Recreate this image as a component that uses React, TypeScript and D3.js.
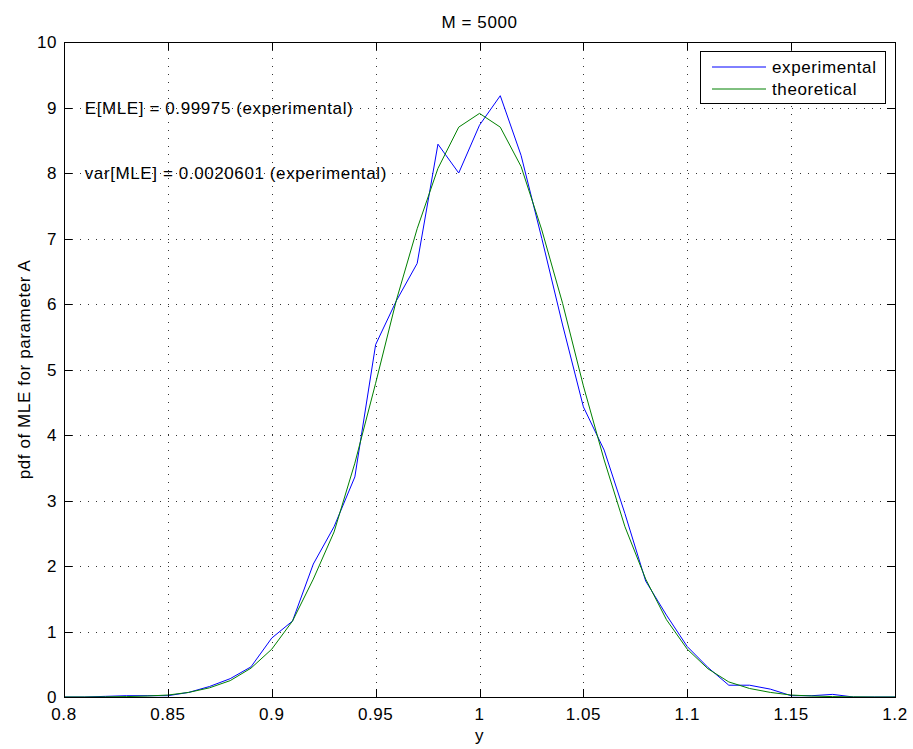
import React from "react";
import * as d3 from "d3";

const xValues: number[] = [
  0.8, 0.81, 0.82, 0.83, 0.84, 0.85, 0.86, 0.87, 0.88, 0.89, 0.9, 0.91, 0.92, 0.93, 0.94, 0.95, 0.96, 0.97,
  0.98, 0.99, 1.0, 1.01, 1.02, 1.03, 1.04, 1.05, 1.06, 1.07, 1.08, 1.09, 1.1, 1.11, 1.12, 1.13, 1.14, 1.15,
  1.16, 1.17, 1.18, 1.19, 1.2,
];
const experimental: number[] = [
  0, 0, 0.01, 0.02, 0.02, 0.02, 0.07, 0.16, 0.28, 0.46, 0.9, 1.16, 2.03, 2.6, 3.36, 5.38, 6.05, 6.62,
  8.44, 8.0, 8.73, 9.18, 8.27, 7.0, 5.68, 4.43, 3.77, 2.8, 1.77, 1.25, 0.77, 0.45, 0.18, 0.18, 0.12, 0.02,
  0.02, 0.04, 0, 0, 0,
];
const theoretical: number[] = [
  0, 0, 0.002, 0.006, 0.015, 0.03, 0.07, 0.14, 0.25, 0.44, 0.73, 1.16, 1.8, 2.52, 3.57, 4.79, 6.06, 7.15,
  8.07, 8.7, 8.91, 8.7, 8.1, 7.13, 6.01, 4.75, 3.62, 2.6, 1.8, 1.18, 0.73, 0.43, 0.23, 0.13, 0.07, 0.03,
  0.015, 0.006, 0.002, 0, 0,
];
const xTicks: number[] = [0.8, 0.85, 0.9, 0.95, 1, 1.05, 1.1, 1.15, 1.2];
const yTicks: number[] = [0, 1, 2, 3, 4, 5, 6, 7, 8, 9, 10];
const seriesNames: string[] = ["experimental", "theoretical"];
const seriesColors: string[] = ["#0000ff", "#008000"];
const annotations: string[] = ["E[MLE] = 0.99975 (experimental)", "var[MLE] = 0.0020601 (experimental)"];
const annotationY: number[] = [9, 8];
const titleText = "M = 5000";
const xLabel = "y";
const yLabel = "pdf of MLE for parameter A";

const W = 913;
const H = 749;
const left = 64;
const right = 895;
const top = 42;
const bottom = 697;
const FONT = "'Liberation Sans', Arial, Helvetica, sans-serif";
const FS = 17;
const LS = 0.6;

export default function App() {
  const x = d3.scaleLinear().domain([0.8, 1.2]).range([left, right]);
  const y = d3.scaleLinear().domain([0, 10]).range([bottom, top]);
  const line = d3
    .line<number>()
    .x((_, i) => x(xValues[i]))
    .y((d) => y(d));
  const series = [experimental, theoretical];
  const tickLen = 8;

  return (
    <svg
      width={W}
      height={H}
      style={{ position: "absolute", left: 0, top: 0, background: "#fff" }}
      fontFamily={FONT}
    >
      <rect x={0} y={0} width={W} height={H} fill="#fff" />
      {/* grid */}
      <g stroke="#333" strokeWidth={1} strokeDasharray="1 7" shapeRendering="crispEdges">
        {xTicks.slice(1, -1).map((t) => (
          <line key={"gx" + t} x1={Math.round(x(t)) + 0.5} x2={Math.round(x(t)) + 0.5} y1={top} y2={bottom} />
        ))}
        {yTicks.slice(1, -1).map((t) => (
          <line key={"gy" + t} x1={left} x2={right} y1={Math.round(y(t)) + 0.5} y2={Math.round(y(t)) + 0.5} />
        ))}
      </g>
      {/* series */}
      {series.map((s, i) => (
        <path key={seriesNames[i]} d={line(s) || ""} fill="none" stroke={seriesColors[i]} strokeWidth={1} />
      ))}
      {/* annotations */}
      {annotations.map((a, i) => (
        <text
          key={a}
          x={x(0.81)}
          y={y(annotationY[i])}
          dy="0.36em"
          fontSize={FS}
          letterSpacing={LS}
          fill="#000"
        >
          {a}
        </text>
      ))}
      {/* axes box + ticks */}
      <g stroke="#000" strokeWidth={1} shapeRendering="crispEdges">
        <rect x={left + 0.5} y={top + 0.5} width={right - left} height={bottom - top} fill="none" />
        {xTicks.map((t) => (
          <g key={"tx" + t}>
            <line x1={Math.round(x(t)) + 0.5} x2={Math.round(x(t)) + 0.5} y1={bottom} y2={bottom - tickLen} />
            <line x1={Math.round(x(t)) + 0.5} x2={Math.round(x(t)) + 0.5} y1={top} y2={top + tickLen} />
          </g>
        ))}
        {yTicks.map((t) => (
          <g key={"ty" + t}>
            <line x1={left} x2={left + tickLen} y1={Math.round(y(t)) + 0.5} y2={Math.round(y(t)) + 0.5} />
            <line x1={right} x2={right - tickLen} y1={Math.round(y(t)) + 0.5} y2={Math.round(y(t)) + 0.5} />
          </g>
        ))}
      </g>
      {/* tick labels */}
      {xTicks.map((t) => (
        <text key={"lx" + t} x={x(t)} y={bottom + 23} textAnchor="middle" fontSize={FS} letterSpacing={LS}>
          {d3.format("~g")(t)}
        </text>
      ))}
      {yTicks.map((t) => (
        <text key={"ly" + t} x={left - 7} y={y(t)} dy="0.36em" textAnchor="end" fontSize={FS} letterSpacing={LS}>
          {t}
        </text>
      ))}
      {/* labels */}
      <text x={(left + right) / 2} y={28} textAnchor="middle" fontSize={FS} letterSpacing={LS}>
        {titleText}
      </text>
      <text x={(left + right) / 2} y={741} textAnchor="middle" fontSize={FS} letterSpacing={LS}>
        {xLabel}
      </text>
      <text
        transform={`translate(30,${(top + bottom) / 2}) rotate(-90)`}
        textAnchor="middle"
        fontSize={FS}
        letterSpacing={LS}
      >
        {yLabel}
      </text>
      {/* legend */}
      <g>
        <rect x={700.5} y={51.5} width={185} height={52} fill="#fff" stroke="#000" strokeWidth={1} />
        {seriesNames.map((n, i) => (
          <g key={"lg" + n}>
            <line x1={712} x2={766} y1={67 + i * 22} y2={67 + i * 22} stroke={seriesColors[i]} strokeWidth={1} />
            <text x={772} y={67 + i * 22} dy="0.36em" fontSize={FS} letterSpacing={LS}>
              {n}
            </text>
          </g>
        ))}
      </g>
    </svg>
  );
}
